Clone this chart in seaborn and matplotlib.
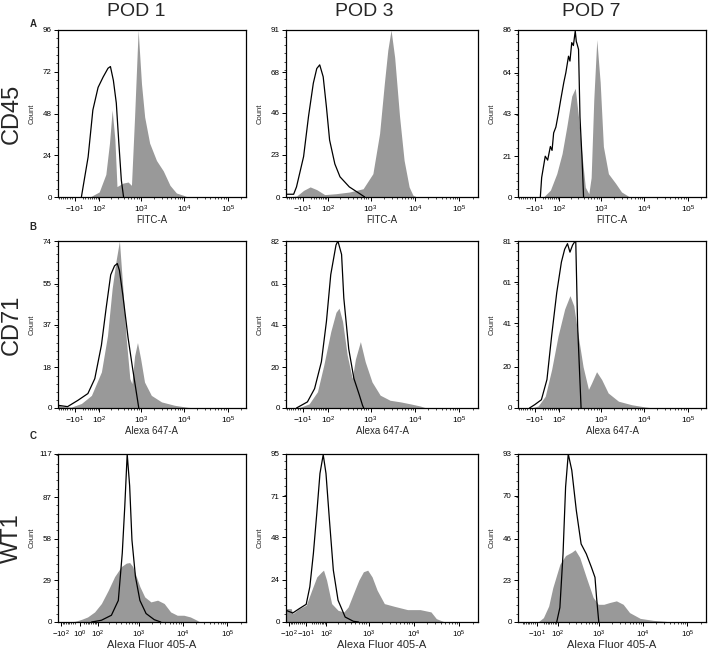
import numpy as np
import matplotlib
matplotlib.use('Agg')
import matplotlib.pyplot as plt
import seaborn as sns
from matplotlib.ticker import FixedLocator, AutoMinorLocator

# -------------------------------
# data: counts (x = fluorescence intensity)
# filled = stained sample, line = control
# -------------------------------
pods = ['POD 1', 'POD 3', 'POD 7']
markers = ['CD45', 'CD71', 'WT1']
channels = ['FITC-A', 'Alexa 647-A', 'Alexa Fluor 405-A']

cd45_pod1_x = [50, 100, 150, 185, 215, 250, 280, 390, 510, 610, 720, 870, 1040, 1230, 1600, 2300, 3300, 4700, 6600, 9500, 12000]
cd45_pod1_y = [0, 2.9, 13, 31, 50, 33, 6, 8, 8.6, 6.7, 46, 96, 65, 46, 31, 21, 15, 6.7, 2.3, 1, 0]
cd45_pod1_iso_x = [15, 28, 42, 64, 93, 128, 170, 195, 230, 270, 310, 355, 400]
cd45_pod1_iso_y = [0, 11.5, 23, 50, 63, 69, 74, 75, 67, 54, 31, 9.6, 0]

cd45_pod3_x = [-85, -35, -8, 16, 42, 80, 160, 330, 680, 1130, 1600, 2050, 2450, 2900, 3500, 4500, 5700, 7400, 9000, 11000]
cd45_pod3_y = [0, 0.5, 3.6, 5.5, 4, 1.3, 1.8, 2.7, 4.5, 12.7, 34.6, 62, 80, 91, 76, 44, 20, 5.5, 1, 0]
cd45_pod3_iso_x = [-85, -47, -35, -8, 10, 28, 42, 55, 72, 90, 110, 150, 200, 330, 570, 740]
cd45_pod3_iso_y = [1.5, 1.5, 5.5, 22, 44, 62, 70, 72, 65.5, 49, 31, 18, 11, 5.5, 1.8, 0]

cd45_pod7_x = [23, 52, 85, 120, 158, 210, 255, 305, 370, 440, 530, 600, 690, 810, 970, 1150, 1500, 2200, 3000, 4400, 6000]
cd45_pod7_y = [0, 3.5, 12, 22.4, 36, 52, 56, 41, 21, 5, 1.7, 10, 50, 81, 59, 26, 12, 7, 2.6, 0.3, 0]
cd45_pod7_iso_x = [11, 16, 30, 40, 52, 60, 68, 80, 95, 110, 133, 150, 175, 190, 210, 230, 255, 270, 280, 305, 330, 370, 400]
cd45_pod7_iso_y = [0, 10, 21, 19, 26, 24, 33, 36, 43, 50, 59, 64, 72.5, 70, 79.5, 78, 85.5, 80, 79, 76, 41, 19, 0]

cd71_pod1_x = [-85, -53, -23, 15, 57, 115, 165, 215, 265, 320, 385, 460, 560, 625, 720, 840, 990, 1220, 1750, 3000, 6000, 12000, 20000]
cd71_pod1_y = [1.2, 0.6, 0.4, 2, 5.6, 16, 32, 53, 65, 74, 53, 31, 13, 10.8, 23, 29, 22, 11.5, 5.6, 2.7, 1.2, 0.3, 0]
cd71_pod1_iso_x = [-85, -38, 2, 41, 74, 115, 152, 198, 245, 285, 320, 385, 510, 650, 790, 900]
cd71_pod1_iso_y = [1.2, 0.6, 3.4, 6.4, 13, 27.8, 44, 59, 63, 64, 61, 50, 31, 17.4, 7, 0]

cd71_pod3_x = [-30, -18, 12, 45, 75, 118, 160, 190, 230, 295, 385, 455, 590, 760, 1080, 1650, 2750, 4750, 8000, 13000, 18000]
cd71_pod3_y = [0, 0.5, 2, 8, 21, 37.5, 47, 49, 42.5, 26, 14.5, 24, 32.6, 22.7, 12.8, 6.3, 3.8, 3, 2, 1, 0]
cd71_pod3_iso_x = [-35, 6, 33, 63, 90, 118, 160, 178, 218, 246, 320, 420, 560, 660, 700]
cd71_pod3_iso_y = [0, 3, 9.5, 22.7, 42.5, 65.5, 80, 82, 75.4, 54, 29, 14.5, 6.3, 1.3, 0]

cd71_pod7_x = [-23, 3, 30, 58, 93, 140, 190, 235, 300, 390, 520, 610, 800, 1050, 1480, 2550, 5100, 10500, 16000]
cd71_pod7_y = [0, 1, 5.7, 18.7, 35, 48, 54.5, 49.6, 35, 20, 9, 12, 17.6, 13.8, 7.3, 3.3, 1.6, 0.5, 0]
cd71_pod7_iso_x = [-30, -10, 15, 37, 58, 85, 115, 140, 165, 190, 220, 245, 262, 290, 350]
cd71_pod7_iso_y = [0, 1.6, 4, 13.8, 35, 56, 70.8, 77, 79.7, 75.6, 79, 80.5, 81, 40, 0]

wt1_pod1_x = [-60, -20, 11, 40, 80, 129, 194, 278, 400, 520, 620, 730, 880, 1060, 1360, 1880, 2660, 3740, 5240, 7380, 10400, 14600, 20600, 24000]
wt1_pod1_y = [0, 0.5, 1.9, 3.5, 7, 12.9, 22, 31.6, 38.6, 41, 41.4, 38.6, 31.6, 24.6, 17.5, 14, 15.2, 12.9, 7, 4.7, 4.7, 3.5, 1.2, 0]
wt1_pod1_iso_x = [62, 129, 233, 340, 420, 480, 545, 620, 700, 840, 1060, 1460, 2240, 3140]
wt1_pod1_iso_y = [0, 1.2, 4.7, 15, 48, 80.7, 117, 94.8, 57, 31.6, 15, 5.9, 1.6, 0]

wt1_pod3_x = [-125, -88, -78, -41, -8, 18, 43, 70, 81, 101, 140, 203, 280, 350, 460, 610, 770, 960, 1200, 1550, 2240, 3680, 7270, 13800, 24000, 31500, 44000, 55000]
wt1_pod3_y = [7.6, 7.6, 4.7, 7.6, 9.5, 18, 25.5, 28.4, 29.3, 23.7, 10.4, 6.6, 5.7, 8.5, 16, 23.7, 28.4, 29.3, 25.5, 18, 10.4, 8.9, 7, 7, 5.7, 1.9, 0.4, 0]
wt1_pod3_iso_x = [-125, -78, -41, -8, 9, 26, 43, 60, 79, 97, 122, 155, 203, 299, 460, 600]
wt1_pod3_iso_y = [6.6, 5.1, 7.6, 10, 19.9, 38.8, 61.5, 84, 94.6, 84, 57.7, 29.3, 12.3, 2.8, 0.4, 0]

wt1_pod7_x = [-7, 19, 46, 69, 117, 167, 236, 285, 366, 520, 745, 970, 1300, 1770, 2500, 3550, 4960, 8600, 17000, 31000, 45000]
wt1_pod7_y = [0, 2.4, 8.9, 19, 32, 36.8, 38.6, 40, 35.8, 24.7, 13.6, 9.8, 9.8, 10.8, 11.7, 9.8, 5.2, 2, 0.9, 0.4, 0]
wt1_pod7_iso_x = [94, 117, 143, 167, 195, 238, 305, 395, 520, 680, 820, 890, 1000]
wt1_pod7_iso_y = [0, 8, 37.7, 74.8, 93, 84, 61.8, 43.2, 37.7, 30.3, 24.7, 13.5, 0]

# y tick labels per panel (quarters of the max count)
cd45_yticks = [[0, 24, 48, 72, 96], [0, 23, 46, 68, 91], [0, 21, 43, 64, 86]]
cd71_yticks = [[0, 18, 37, 55, 74], [0, 20, 41, 61, 82], [0, 20, 41, 61, 81]]
wt1_yticks = [[0, 29, 58, 87, 117], [0, 24, 48, 71, 95], [0, 23, 46, 70, 93]]

# x tick values and labels
ab_xticks = [-10, 100, 1000, 10000, 100000]
ab_xlabels = ['$-10^1$', '$10^2$', '$10^3$', '$10^4$', '$10^5$']
c_xticks = [[-100, 1, 100, 1000, 10000, 100000],
            [-100, -10, 100, 1000, 10000, 100000],
            [-10, 100, 1000, 10000, 100000]]
c_xlabels = [['$-10^2$', '$10^0$', '$10^2$', '$10^3$', '$10^4$', '$10^5$'],
             ['$-10^2$', '$-10^1$', '$10^2$', '$10^3$', '$10^4$', '$10^5$'],
             ['$-10^1$', '$10^2$', '$10^3$', '$10^4$', '$10^5$']]
x_minor = [-90, -80, -70, -60, -50, -40, -30, -20, 20, 30, 40, 50, 60, 70, 80, 90,
           200, 300, 400, 500, 600, 700, 800, 900, 2000, 3000, 4000, 5000, 6000, 7000,
           8000, 9000, 20000, 30000, 40000, 50000, 60000, 70000, 80000, 90000, 200000]

fill_data = [[(cd45_pod1_x, cd45_pod1_y), (cd45_pod3_x, cd45_pod3_y), (cd45_pod7_x, cd45_pod7_y)],
             [(cd71_pod1_x, cd71_pod1_y), (cd71_pod3_x, cd71_pod3_y), (cd71_pod7_x, cd71_pod7_y)],
             [(wt1_pod1_x, wt1_pod1_y), (wt1_pod3_x, wt1_pod3_y), (wt1_pod7_x, wt1_pod7_y)]]
line_data = [[(cd45_pod1_iso_x, cd45_pod1_iso_y), (cd45_pod3_iso_x, cd45_pod3_iso_y), (cd45_pod7_iso_x, cd45_pod7_iso_y)],
             [(cd71_pod1_iso_x, cd71_pod1_iso_y), (cd71_pod3_iso_x, cd71_pod3_iso_y), (cd71_pod7_iso_x, cd71_pod7_iso_y)],
             [(wt1_pod1_iso_x, wt1_pod1_iso_y), (wt1_pod3_iso_x, wt1_pod3_iso_y), (wt1_pod7_iso_x, wt1_pod7_iso_y)]]
yticks_all = [cd45_yticks, cd71_yticks, wt1_yticks]

# -------------------------------
# style
# -------------------------------
sns.set_style('ticks')
plt.rcParams['font.family'] = ['Liberation Sans', 'DejaVu Sans']
plt.rcParams['mathtext.default'] = 'regular'

W, H = 708, 653
fig = plt.figure(figsize=(W / 100, H / 100), dpi=100)

col_left = [58, 286, 518]
col_width = [188, 192, 188]
row_top = [30, 241, 454]
row_bottom = [197, 408, 622]
# biexponential-like display: asinh width and lower limit per row
row_c = [70, 70, 92]
row_xmin = [-85, -85, -125]
xmax = 262144


def make_scale(c):
    fwd = lambda v: np.arcsinh(np.asarray(v, dtype=float) / c) / np.log(10)
    inv = lambda v: c * np.sinh(np.asarray(v, dtype=float) * np.log(10))
    return fwd, inv


for r in range(3):
    for k in range(3):
        h = row_bottom[r] - row_top[r]
        ax = fig.add_axes([col_left[k] / W, 1 - row_bottom[r] / H,
                           col_width[k] / W, h / H])
        ax.set_xscale('function', functions=make_scale(row_c[r]))

        fx, fy = fill_data[r][k]
        lx, ly = line_data[r][k]
        ax.fill_between(fx, fy, color='#999999', lw=0)
        sns.lineplot(x=lx, y=ly, ax=ax, color='black', lw=0.9,
                     sort=False, estimator=None)

        yt = yticks_all[r][k]
        ax.set_ylim(0, yt[-1])
        ax.set_xlim(row_xmin[r], xmax)
        ax.yaxis.set_major_locator(FixedLocator(yt))
        ax.set_yticklabels([str(v) for v in yt])
        ax.yaxis.set_minor_locator(AutoMinorLocator(5))

        if r < 2:
            ax.set_xticks(ab_xticks)
            ax.set_xticklabels(ab_xlabels)
        else:
            ax.set_xticks(c_xticks[k])
            ax.set_xticklabels(c_xlabels[k])
        ax.xaxis.set_minor_locator(FixedLocator(x_minor))

        ax.tick_params(axis='both', which='major', direction='out', length=3,
                       width=0.7, pad=1.5, colors='black')
        ax.tick_params(axis='both', which='minor', direction='out', length=1.6,
                       width=0.5, colors='black')
        ax.tick_params(axis='x', labelsize=5.6 if r == 2 else 6)
        ax.tick_params(axis='y', labelsize=5.8)
        for s in ax.spines.values():
            s.set_visible(True)
            s.set_linewidth(0.9)
            s.set_color('black')

        ax.set_ylabel('Count', fontsize=5.5)
        ax.yaxis.set_label_coords(-22 / col_width[k], 0.5)
        ax.set_xlabel(channels[r], fontsize=8 if r == 2 else 7, labelpad=1)
        ax.xaxis.set_label_coords(0.5, -(18 if r == 2 else 18) / h)

# column titles, row labels and panel letters
for k, cx in enumerate([136, 364, 591]):
    fig.text(cx / W, 1 - 12 / H, pods[k], ha='center', va='center', fontsize=14)
for r in range(3):
    cy = (row_top[r] + row_bottom[r]) / 2
    fig.text(12 / W, 1 - cy / H, markers[r], rotation=90, ha='center', va='center', fontsize=17)
for lbl, ly in zip(['A', 'B', 'C'], [24, 227, 436]):
    fig.text(33 / W, 1 - ly / H, lbl, ha='center', va='center', fontsize=7, fontweight='bold')

fig.savefig('out.png', dpi=100)
plt.close(fig)
